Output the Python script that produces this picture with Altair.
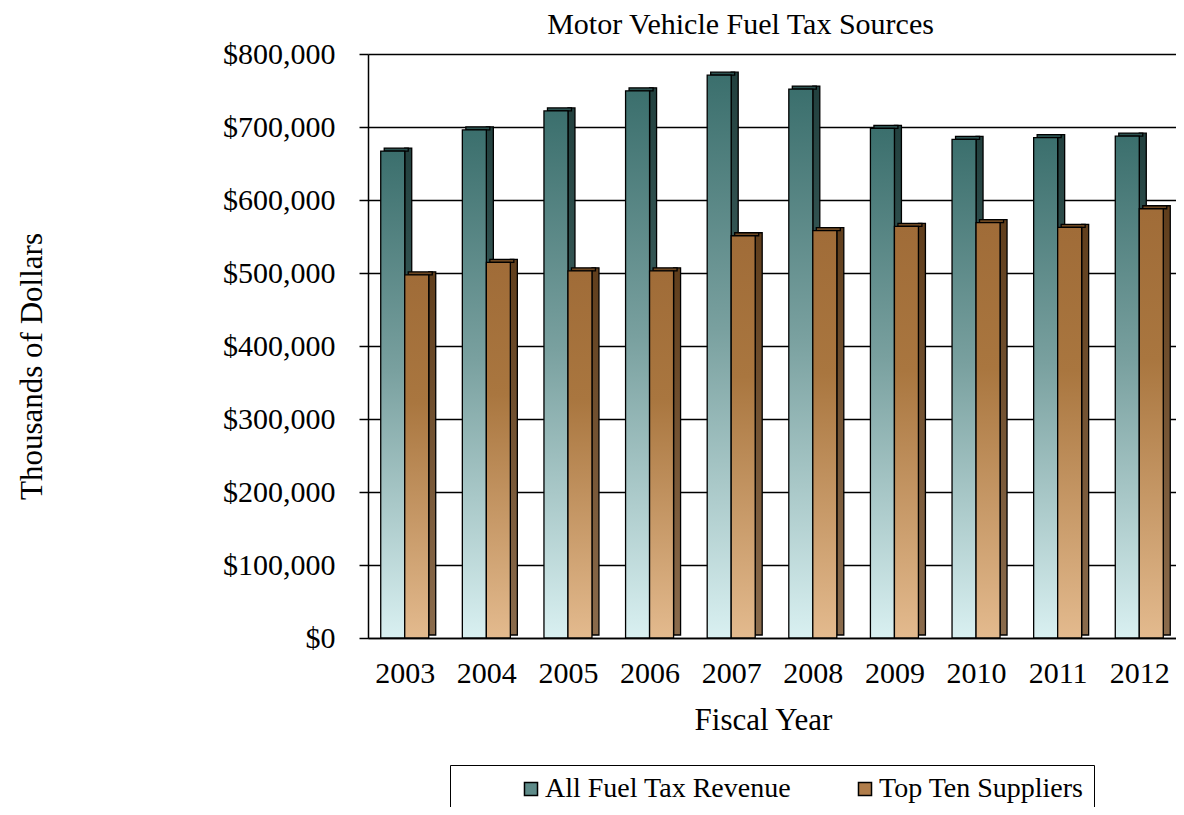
import altair as alt
import pandas as pd

years = ["2003", "2004", "2005", "2006", "2007", "2008", "2009", "2010", "2011", "2012"]
all_revenue = [667000, 696000, 722000, 749500, 771000, 752000, 698000, 683000, 685500, 687500]
top_ten = [497500, 514500, 503000, 503000, 551000, 558000, 564000, 569000, 562500, 588000]
series_names = ["All Fuel Tax Revenue", "Top Ten Suppliers"]
y_ticks = [0, 100000, 200000, 300000, 400000, 500000, 600000, 700000, 800000]
chart_title = "Motor Vehicle Fuel Tax Sources"

rows = []
for i, y in enumerate(years):
    rows.append({"year": y, "series": series_names[0], "value": all_revenue[i]})
    rows.append({"year": y, "series": series_names[1], "value": top_ten[i]})
df = pd.DataFrame(rows)

FONT = "Liberation Serif"


def grad(stops):
    return alt.LinearGradient(
        gradient="linear",
        stops=[alt.GradientStop(color=c, offset=o) for o, c in stops],
        x1=0, x2=0, y1=0, y2=1,
    )


teal_front = grad([(0, "#3b6f6d"), (0.45, "#79a09f"), (1, "#d9f0f1")])
teal_side = grad([(0, "#22403e"), (1, "#5c8583")])
orange_front = grad([(0, "#a06c38"), (0.35, "#a9763f"), (1, "#e3ba8e")])
orange_side = grad([(0, "#603e1c"), (1, "#8a6b4c")])

x_scale = alt.Scale(type="point", padding=0.45)

x_enc = alt.X(
    "year:N",
    scale=x_scale,
    axis=alt.Axis(
        title="Fiscal Year",
        labelFontSize=30,
        labelFont=FONT,
        labelColor="black",
        labelPadding=20,
        labelAngle=0,
        ticks=False,
        domain=True,
        domainColor="black",
        domainWidth=1.5,
        grid=False,
        titleFont=FONT,
        titleFontSize=31,
        titleFontWeight="normal",
        titleColor="black",
        titleX=395,
        titleY=82,
        titleAlign="center",
        titleBaseline="middle",
    ),
)
x_top_enc = alt.X(
    "year:N",
    scale=x_scale,
    axis=alt.Axis(
        orient="top",
        title=chart_title,
        labels=False,
        ticks=False,
        domain=False,
        grid=False,
        titleFont=FONT,
        titleFontSize=30,
        titleFontWeight="normal",
        titleColor="black",
        titleX=372,
        titleY=-21,
        titleAlign="center",
        titleBaseline="alphabetic",
    ),
)
y_enc = alt.Y(
    "value:Q",
    scale=alt.Scale(domain=[0, 800000], nice=False, zero=True),
    axis=alt.Axis(
        title="Thousands of Dollars",
        values=y_ticks,
        format="$,.0f",
        labelFontSize=30,
        labelFont=FONT,
        labelColor="black",
        labelPadding=24,
        tickSize=9,
        tickColor="black",
        tickWidth=1.5,
        domain=True,
        domainColor="black",
        domainWidth=1.5,
        grid=True,
        gridColor="black",
        gridWidth=1.5,
        titleFont=FONT,
        titleFontSize=31,
        titleFontWeight="normal",
        titleColor="black",
        titleX=-336,
        titleY=312,
        titleAngle=270,
        titleBaseline="middle",
        titleAlign="center",
    ),
)

base = alt.Chart(df)
teal_data = base.transform_filter(alt.datum.series == series_names[0])
orange_data = base.transform_filter(alt.datum.series == series_names[1])

stroke = dict(stroke="black", strokeWidth=1.3)

teal_side_l = teal_data.mark_bar(width=7, xOffset=3.5, yOffset=-3, y2Offset=-2, color=teal_side, **stroke).encode(x=x_enc, y=y_enc)
teal_top_l = teal_data.mark_bar(width=24, xOffset=-8.5, yOffset=-3, color="#2c5250", **stroke).encode(x=x_enc, y=y_enc, y2="value:Q")
teal_front_l = teal_data.mark_bar(width=24, xOffset=-12, color=teal_front, **stroke).encode(x=x_enc, y=y_enc)

orange_side_l = orange_data.mark_bar(width=7, xOffset=27.5, yOffset=-3, y2Offset=-2, color=orange_side, **stroke).encode(x=x_enc, y=y_enc)
orange_top_l = orange_data.mark_bar(width=24, xOffset=15.5, yOffset=-3, color="#6e4822", **stroke).encode(x=x_enc, y=y_enc, y2="value:Q")
orange_front_l = orange_data.mark_bar(width=24, xOffset=12, color=orange_front, **stroke).encode(x=x_enc, y=y_enc)

bars = alt.layer(
    teal_side_l, teal_top_l, teal_front_l,
    orange_side_l, orange_top_l, orange_front_l,
)

legend_l = base.mark_square(opacity=0, size=10).encode(
    x=x_top_enc,
    y=y_enc,
    color=alt.Color(
        "series:N",
        scale=alt.Scale(domain=series_names, range=["#5e8b89", "#b07d4b"]),
        legend=alt.Legend(
            title=None,
            orient="none",
            direction="horizontal",
            legendX=82,
            legendY=711,
            symbolType="square",
            symbolSize=170,
            symbolOpacity=1,
            symbolStrokeColor="black",
            symbolStrokeWidth=1.5,
            symbolOffset=57,
            labelFont=FONT,
            labelFontSize=28,
            labelColor="black",
            labelOffset=0,
            labelLimit=400,
            columnPadding=2,
            padding=10,
            strokeColor="black",
            fillColor="white",
        ),
    ),
)

chart = alt.layer(bars, legend_l).resolve_axis(x="independent", y="shared").properties(
    width=808,
    height=584,
    padding={"left": 360, "top": 46, "right": 0, "bottom": 169},
    autosize=alt.AutoSizeParams(type="none"),
).configure_view(stroke=None)

chart.save("out.html", embed_options={"renderer": "svg", "actions": False})
